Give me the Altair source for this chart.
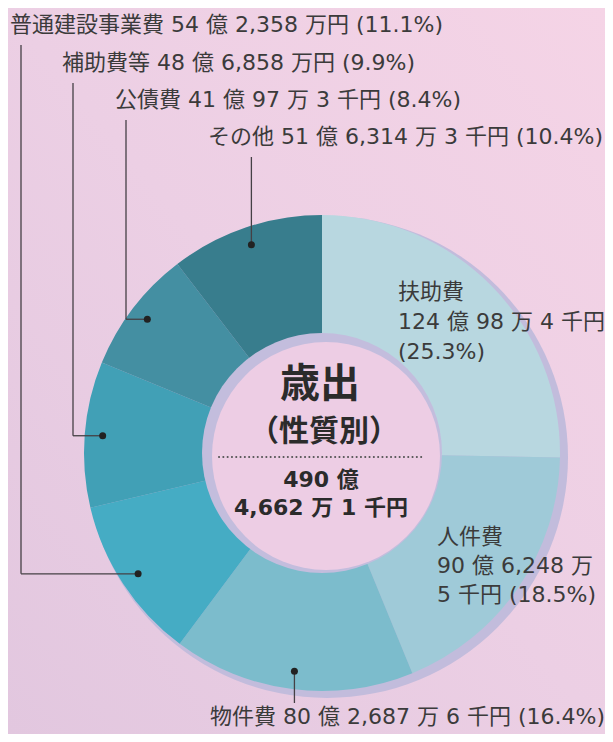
import math
import altair as alt
import pandas as pd

# ---------------- data ----------------
categories = ["扶助費", "人件費", "物件費", "普通建設事業費", "補助費等", "公債費", "その他"]
shares = [25.3, 18.5, 16.4, 11.1, 9.9, 8.4, 10.4]
amounts = ["124 億 98 万 4 千円", "90 億 6,248 万 5 千円", "80 億 2,687 万 6 千円",
           "54 億 2,358 万円", "48 億 6,858 万円", "41 億 97 万 3 千円", "51 億 6,314 万 3 千円"]
colors = ["#b8d7e0", "#9fcad8", "#7cbccc", "#45acc4", "#41a0b6", "#448fa2", "#387d8d"]
title_lines = ["歳出", "（性質別）"]
total_lines = ["490 億", "4,662 万 1 千円"]

# ---------------- layout ----------------
W, H = 597, 726
CX, CY = 314, 445
R_OUT, R_IN = 238, 120
R_DOT = 220
LABEL_FONT = "DejaVu Sans, Noto Sans CJK JP"
CJK_FONT = "Noto Sans CJK JP"
TXT = "#3b3b3b"
LINE = "#454045"

# label anchor (left x, first-line y, line step) and leader style
label_pos = {
    "扶助費": (390, 284, 30, None),
    "人件費": (429, 529, 29, None),
    "物件費": (202, 709, 0, "down"),
    "普通建設事業費": (2, 17, 0, "elbow"),
    "補助費等": (54, 55, 0, "elbow"),
    "公債費": (107, 92, 0, "elbow"),
    "その他": (200, 129, 0, "up"),
}

df = pd.DataFrame({"cat": categories, "share": shares, "amount": amounts,
                   "idx": list(range(len(categories)))})

# text rows
text_rows = []
for c, a, s in zip(categories, amounts, shares):
    x0, y0, step, _ = label_pos[c]
    if c == "扶助費":
        lines = [c, a, f"({s}%)"]
    elif c == "人件費":
        k = a.index("万") + 1
        lines = [c, a[:k], a[k + 1:] + f" ({s}%)"]
    else:
        lines = [f"{c} {a} ({s}%)"]
    for i, ln in enumerate(lines):
        text_rows.append({"t": ln, "x": x0, "y": y0 + i * step})
text_df = pd.DataFrame(text_rows)

# dots & leader lines derived from the slice mid-angles
cum = 0.0
dots, segs = [], []
total = sum(shares)
for c, s in zip(categories, shares):
    mid = (cum + s / 2) / total * 2 * math.pi
    cum += s
    x0, y0, step, kind = label_pos[c]
    if kind is None:
        continue
    dx = CX + R_DOT * math.sin(mid)
    dy = CY - R_DOT * math.cos(mid)
    dots.append({"x": dx, "y": dy})
    if kind == "elbow":
        lx = x0 + 11
        segs.append({"x": dx, "y": dy, "x2": lx, "y2": dy})
        segs.append({"x": lx, "y": dy, "x2": lx, "y2": y0 + 20})
    elif kind == "up":
        segs.append({"x": dx, "y": dy, "x2": dx, "y2": y0 + 20})
    elif kind == "down":
        segs.append({"x": dx, "y": dy, "x2": dx, "y2": y0 - 14})
dot_df = pd.DataFrame(dots)
seg_df = pd.DataFrame(segs)

xs = alt.Scale(domain=[0, W], nice=False, zero=False)
ys = alt.Scale(domain=[0, H], nice=False, zero=False, reverse=True)
one = pd.DataFrame({"v": [1]})

bg = alt.Chart(one).mark_rect(
    color=alt.LinearGradient(
        gradient="linear",
        stops=[alt.GradientStop(color="#f5d4e6", offset=0),
               alt.GradientStop(color="#eccfe4", offset=0.5),
               alt.GradientStop(color="#e2c7df", offset=1)],
        x1=1, y1=0, x2=0, y2=1)
).encode(x=alt.value(0), x2=alt.value(W), y=alt.value(0), y2=alt.value(H))

shadow = alt.Chart(one).mark_circle(size=(2 * 241) ** 2, color="#c2bcdc", opacity=1).encode(
    x=alt.value(CX + 5), y=alt.value(CY + 4))

donut = alt.Chart(df).mark_arc(outerRadius=R_OUT, innerRadius=R_IN - 2, stroke=None).encode(
    theta=alt.Theta("share:Q", stack=True),
    order=alt.Order("idx:Q"),
    color=alt.Color("cat:N", scale=alt.Scale(domain=categories, range=colors), legend=None),
    x=alt.value(CX), y=alt.value(CY),
)

inner_ring = alt.Chart(one).mark_circle(size=(2 * 120) ** 2, color="#c3bddd", opacity=1).encode(
    x=alt.value(CX), y=alt.value(CY))
inner = alt.Chart(one).mark_circle(size=(2 * 114) ** 2, color="#edcde4", opacity=1).encode(
    x=alt.value(CX + 4), y=alt.value(CY + 3))

rules = alt.Chart(seg_df).mark_rule(color=LINE, strokeWidth=1.3).encode(
    x=alt.X("x:Q", scale=xs, axis=None), y=alt.Y("y:Q", scale=ys, axis=None),
    x2="x2:Q", y2="y2:Q")
dot_layer = alt.Chart(dot_df).mark_circle(size=49, color="#222222", opacity=1).encode(
    x=alt.X("x:Q", scale=xs, axis=None), y=alt.Y("y:Q", scale=ys, axis=None))

labels = alt.Chart(text_df).mark_text(
    align="left", baseline="middle", font=LABEL_FONT, fontSize=22, color=TXT
).encode(x=alt.X("x:Q", scale=xs, axis=None), y=alt.Y("y:Q", scale=ys, axis=None), text="t:N")

c_title1 = alt.Chart(pd.DataFrame({"t": [title_lines[0]]})).mark_text(
    font=CJK_FONT, fontSize=40, fontWeight="bold", color="#2b2b2b", baseline="middle"
).encode(x=alt.value(CX - 2), y=alt.value(CY - 68), text="t:N")
c_title2 = alt.Chart(pd.DataFrame({"t": [title_lines[1]]})).mark_text(
    font=CJK_FONT, fontSize=30, fontWeight="bold", color="#2b2b2b", baseline="middle"
).encode(x=alt.value(CX + 2), y=alt.value(CY - 21), text="t:N")
dotted = alt.Chart(one).mark_rule(color="#555555", strokeWidth=2, strokeDash=[0.1, 4.2],
                                  strokeCap="round").encode(
    x=alt.value(CX - 103), x2=alt.value(CX + 101), y=alt.value(CY + 4))
c_total = alt.Chart(pd.DataFrame({"t": total_lines, "k": [0, 1]})).mark_text(
    font=LABEL_FONT, fontSize=22, fontWeight="bold", color="#2b2b2b", baseline="middle"
).encode(x=alt.value(CX - 1), y=alt.Y("k:Q", scale=alt.Scale(domain=[0, 1], range=[CY + 27, CY + 55]), axis=None),
         text="t:N")

chart = alt.layer(bg, shadow, donut, inner_ring, inner, rules, dot_layer, labels,
                  c_title1, c_title2, dotted, c_total).properties(
    width=W, height=H, padding=0, autosize="none"
).configure_view(stroke=None).resolve_scale(y="independent")

chart.save("out.html", embed_options={"renderer": "svg", "actions": False})
